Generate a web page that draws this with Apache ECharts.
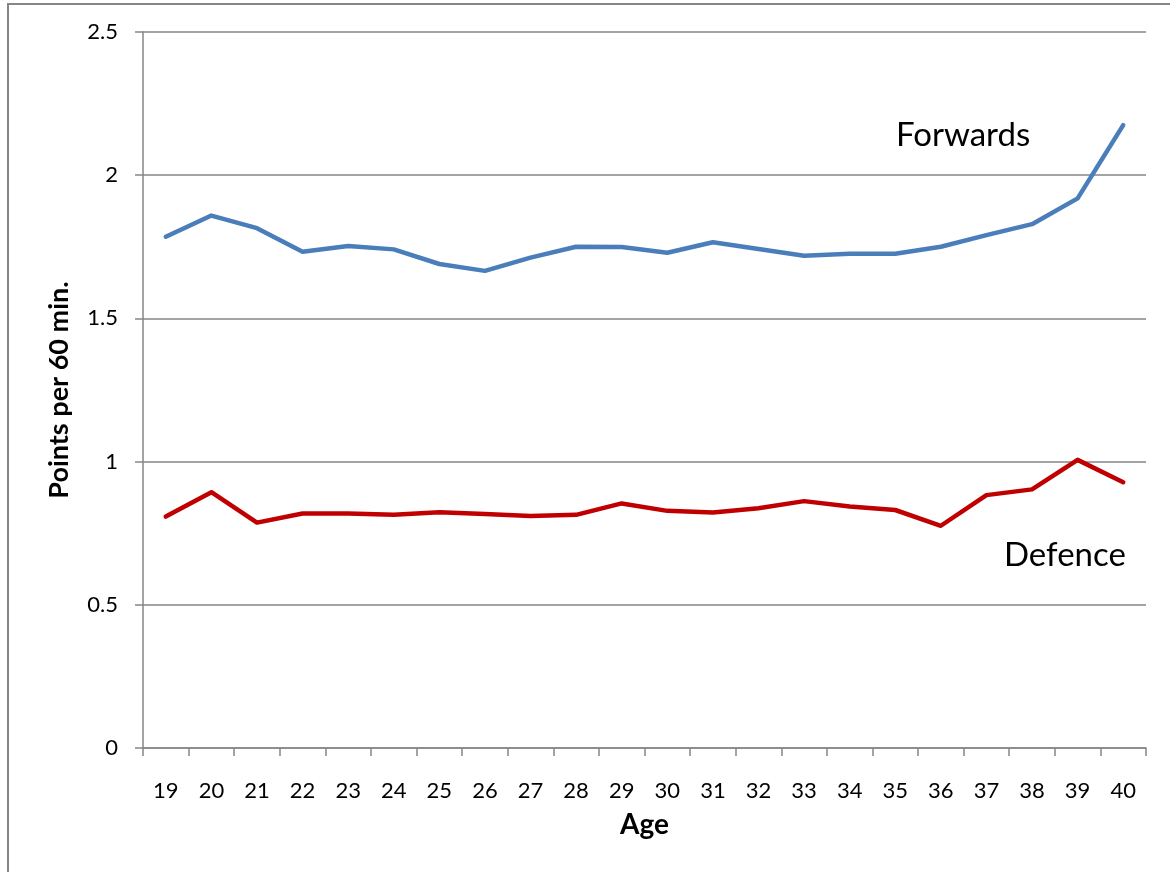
<!DOCTYPE html>
<html>
<head>
<meta charset="utf-8">
<script src="https://cdn.jsdelivr.net/npm/echarts@6/dist/echarts.min.js"></script>
<style>
  html, body { margin: 0; padding: 0; background: #fff; }
  #chart { width: 1170px; height: 872px; }
</style>
</head>
<body>
<div id="chart"></div>
<script>
// Points per 60 minutes by player age
const ages = ['19','20','21','22','23','24','25','26','27','28','29','30','31','32','33','34','35','36','37','38','39','40'];
const forwards = [1.785, 1.859, 1.815, 1.733, 1.753, 1.741, 1.690, 1.666, 1.712, 1.750, 1.749, 1.729, 1.766, 1.742, 1.719, 1.726, 1.726, 1.750, 1.791, 1.829, 1.919, 2.175];
const defence = [0.808, 0.893, 0.787, 0.819, 0.819, 0.814, 0.823, 0.817, 0.810, 0.814, 0.854, 0.828, 0.822, 0.837, 0.862, 0.843, 0.831, 0.776, 0.883, 0.903, 1.006, 0.928];
const yTicks = { min: 0, max: 2.5, interval: 0.5 };

const FONT = 'Lato, "Noto Sans", sans-serif';
const GRAY = '#868686';

const chart = echarts.init(document.getElementById('chart'), null, { renderer: 'canvas' });
chart.setOption({
  backgroundColor: '#ffffff',
  animation: false,
  grid: { left: 143, right: 24, top: 32, bottom: 124 },
  xAxis: {
    type: 'category',
    data: ages,
    boundaryGap: true,
    name: 'Age',
    nameLocation: 'middle',
    nameGap: 63,
    nameTextStyle: { fontFamily: FONT, fontSize: 28, fontWeight: 'bold', color: '#000' },
    axisLine: { show: true, lineStyle: { color: GRAY, width: 1.5 } },
    axisTick: { show: true, length: 8, lineStyle: { color: GRAY, width: 1.5 } },
    axisLabel: { fontFamily: FONT, fontSize: 22, color: '#000', margin: 32 },
    splitLine: { show: false }
  },
  yAxis: {
    type: 'value',
    min: yTicks.min,
    max: yTicks.max,
    interval: yTicks.interval,
    name: 'Points per 60 min.',
    nameLocation: 'middle',
    nameGap: 70,
    nameRotate: 90,
    nameTextStyle: { fontFamily: FONT, fontSize: 27, fontWeight: 'bold', color: '#000' },
    axisLine: { show: true, lineStyle: { color: GRAY, width: 1.5 } },
    axisTick: { show: true, length: 8, lineStyle: { color: GRAY, width: 1.5 } },
    axisLabel: { fontFamily: FONT, fontSize: 22, color: '#000', margin: 25 },
    splitLine: { show: true, lineStyle: { color: GRAY, width: 1.5 } }
  },
  series: [
    {
      name: 'Forwards',
      type: 'line',
      data: forwards,
      symbol: 'none',
      lineStyle: { color: '#4A7EBB', width: 4.5, cap: 'round', join: 'round' },
      itemStyle: { color: '#4A7EBB' }
    },
    {
      name: 'Defence',
      type: 'line',
      data: defence,
      symbol: 'none',
      lineStyle: { color: '#C00000', width: 4.5, cap: 'round', join: 'round' },
      itemStyle: { color: '#C00000' }
    }
  ],
  graphic: [
    {
      type: 'rect',
      shape: { x: 8, y: 4, width: 1200, height: 900 },
      style: { fill: 'none', stroke: GRAY, lineWidth: 2 },
      silent: true
    },
    {
      type: 'text',
      left: 896,
      top: 119,
      style: { text: 'Forwards', fontFamily: FONT, fontSize: 33, fill: '#000' }
    },
    {
      type: 'text',
      left: 1004,
      top: 539,
      style: { text: 'Defence', fontFamily: FONT, fontSize: 33, fill: '#000' }
    }
  ]
});
</script>
</body>
</html>
